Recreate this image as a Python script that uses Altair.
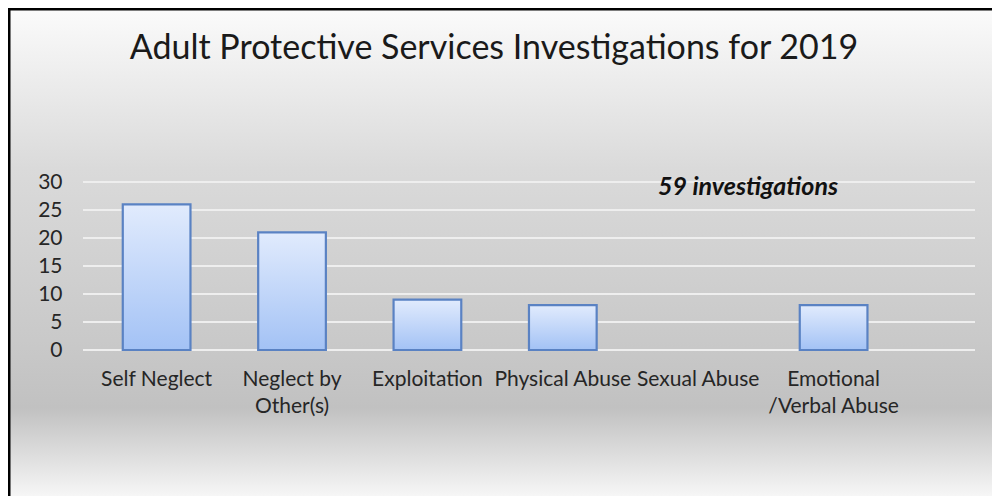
import altair as alt
import pandas as pd

categories = ["Self Neglect", "Neglect by|Other(s)", "Exploitation",
              "Physical Abuse", "Sexual Abuse", "Emotional|/Verbal Abuse"]
counts = [26, 21, 9, 8, 0, 8]
y_ticks = [0, 5, 10, 15, 20, 25, 30]
title_text = "Adult Protective Services Investigations for 2019"
note_text = "59 investigations"

W, H = 892, 168
FONT = "Lato"

df = pd.DataFrame({"category": categories, "count": counts})
grid_df = pd.DataFrame({"v": y_ticks})
note_df = pd.DataFrame({"t": [note_text]})
title_df = pd.DataFrame({"t": [title_text]})
bg_df = pd.DataFrame({"a": [0]})

x_scale = alt.Scale(domain=categories, paddingInner=0.5, paddingOuter=0.544, align=0.27)
y_scale = alt.Scale(domain=[0, 30], nice=False)
y_axis = alt.Axis(values=y_ticks, tickCount=7, domain=False, ticks=False, grid=False,
                  labelPadding=21, labelFontSize=21, labelFont=FONT,
                  labelOverlap=False, labelColor="#262626", zindex=2)

bg = alt.Chart(bg_df).mark_rect(
    fill=alt.LinearGradient(
        gradient="linear", x1=0, x2=0, y1=0, y2=1,
        stops=[
            alt.GradientStop(offset=0.0, color="#fbfbfb"),
            alt.GradientStop(offset=0.33, color="#dadada"),
            alt.GradientStop(offset=0.68, color="#c9c9c9"),
            alt.GradientStop(offset=0.82, color="#c1c1c1"),
            alt.GradientStop(offset=1.0, color="#f6f6f6"),
        ],
    ),
).encode(
    x=alt.value(-75), x2=alt.value(909),
    y=alt.value(-174), y2=alt.value(314),
)

border_left = alt.Chart(bg_df).mark_rule(color="black", strokeWidth=3).encode(
    x=alt.value(-74), y=alt.value(-174), y2=alt.value(314),
)
border_top = alt.Chart(bg_df).mark_rule(color="black", strokeWidth=3).encode(
    x=alt.value(-75), x2=alt.value(909), y=alt.value(-173),
)

grid = alt.Chart(grid_df).mark_rule(color="#eeeeee", strokeWidth=2).encode(
    y=alt.Y("v:Q", scale=y_scale, title=None, axis=y_axis),
    x=alt.value(0), x2=alt.value(W),
)

bars = alt.Chart(df).transform_filter("datum.count > 0").mark_bar(
    fill=alt.LinearGradient(
        gradient="linear", x1=0, x2=0, y1=0, y2=1,
        stops=[
            alt.GradientStop(offset=0.0, color="#e1ebfd"),
            alt.GradientStop(offset=1.0, color="#a3c2f5"),
        ],
    ),
    stroke="#5a82c3", strokeWidth=2.2,
).encode(
    x=alt.X("category:N", sort=categories, scale=x_scale, title=None,
            axis=alt.Axis(labelAngle=0, domain=False, ticks=False, grid=False,
                          labelPadding=18, labelFontSize=21, labelFont=FONT,
                          labelColor="#262626", labelLineHeight=27, zindex=2,
                          labelExpr="split(datum.label, '|')")),
    y=alt.Y("count:Q", scale=y_scale, title=None, axis=y_axis),
)

note = alt.Chart(note_df).mark_text(
    font=FONT, fontSize=25, fontStyle="italic", fontWeight="bold",
    color="#111111", align="center", baseline="middle",
).encode(
    text="t:N", x=alt.value(665), y=alt.value(5),
)

title = alt.Chart(title_df).mark_text(
    font=FONT, fontSize=34, color="#1a1a1a", align="center", baseline="middle",
).encode(
    text="t:N", x=alt.value(411), y=alt.value(-133),
)

chart = alt.layer(bg, border_left, border_top, grid, bars, note, title).properties(
    width=W, height=H,
    autosize=alt.AutoSizeParams(type="none"),
    padding={"left": 75, "top": 174, "right": 17, "bottom": 146},
).configure_view(stroke=None).configure(background="white")

chart.save("out.html", embed_options={"renderer": "svg", "actions": False})
